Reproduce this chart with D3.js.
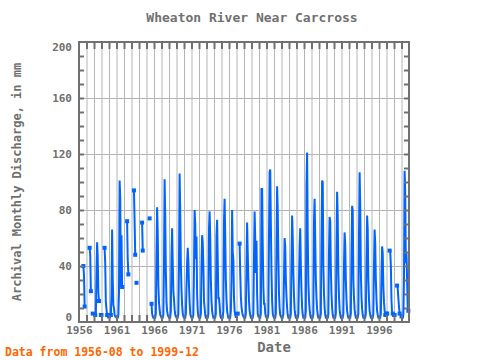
<!DOCTYPE html>
<html><head><meta charset="utf-8">
<script src="https://cdn.jsdelivr.net/npm/d3@7"></script>
<style>
html,body{margin:0;padding:0;background:#fff;}
svg text{font-family:"DejaVu Sans Mono",monospace;font-weight:bold;}
</style></head>
<body><svg id="c" width="480" height="360"></svg>
<script>
// Monthly discharge (mm), series starts January of first year listed; null = missing
const firstYear = 1956;
const flow1956to1959 = [
  null,null,null,null,null,null,null,40,33,11,null,null,
  null,null,null,null,null,53,48,22,null,null,6,null,
  null,null,5,5,36,57,46,21,15,null,null,5,
  5,null,null,null,null,53,42,14,9,5,null,null];
const flow1960to1965 = [
  4,null,null,5,20,66,31,12,10,5,4,4,
  3,3,3,5,21,101,89,25,62,25,null,null,
  null,null,null,null,null,72,45,34,null,null,null,null,
  null,null,null,null,94,72,48,null,28,null,null,null,
  null,null,null,null,null,71,51,null,null,null,null,null,
  null,null,null,null,null,74,null,null,13,6,4,3];
const flow1966to1975 = [
  3,3,3,6,49,82,64,26,14,9,5,4,
  3,3,3,5,40,102,76,36,14,8,5,4,
  3,3,3,8,48,67,42,22,16,9,5,4,
  3,3,3,6,40,106,80,42,23,12,6,4,
  3,3,3,6,25,42,53,44,26,14,6,4,
  3,3,3,5,35,80,70,45,61,20,8,4,
  3,3,3,6,40,62,57,40,15,10,5,3,
  3,3,3,6,66,79,60,30,15,8,5,3,
  3,3,3,6,62,73,45,17,17,12,5,3,
  3,3,3,8,71,88,61,30,16,8,5,3];
const flow1976to1985 = [
  3,3,3,8,30,80,50,44,17,8,5,3,
  5,5,6,null,null,56,35,18,11,7,5,4,
  3,3,3,6,40,71,50,30,15,8,5,3,
  3,3,3,6,45,79,60,35,58,20,6,4,
  4,3,3,6,95,95,55,25,13,13,6,4,
  3,3,3,6,60,107,109,70,35,15,6,4,
  3,3,3,6,55,97,80,46,20,10,5,4,
  3,3,3,6,30,60,54,30,18,10,5,3,
  3,3,3,6,45,76,61,35,18,9,5,3,
  3,3,3,6,30,54,67,40,22,10,5,3];
const flow1986to1995 = [
  3,3,3,8,98,121,62,28,16,9,5,3,
  3,3,3,6,72,88,60,30,17,9,5,3,
  3,3,3,6,60,101,100,40,20,10,5,3,
  3,3,3,6,50,75,72,38,20,10,5,3,
  3,3,3,6,55,93,75,35,18,9,5,3,
  3,3,3,6,40,64,55,30,16,8,5,3,
  3,3,3,6,50,83,80,30,17,9,5,3,
  3,3,3,6,60,107,84,35,18,9,5,3,
  3,3,3,6,45,76,66,30,16,8,5,3,
  3,3,3,6,40,66,56,30,16,8,5,3];
const flow1996to1999 = [
  3,3,3,6,35,54,49,25,14,8,5,null,
  6,6,null,null,null,51,51,40,15,6,6,null,
  5,5,null,null,null,26,24,17,11,6,null,null,
  4,3,3,5,30,108,92,42,49,30,9,8];
const yTicks = [0,40,80,120,160,200];
const xLabelYears = [1956,1961,1966,1971,1976,1981,1986,1991,1996];
const titleText = "Wheaton River Near Carcross";
const yLabel = "Archival Monthly Discharge, in mm";
const xLabel = "Date";
const footer = "Data from 1956-08 to 1999-12";

const all = [].concat(flow1956to1959, flow1960to1965, flow1966to1975, flow1976to1985, flow1986to1995, flow1996to1999);
const data = all.map((v,i)=>({date:new Date(firstYear + Math.floor(i/12), i%12, 1), v:v}));

const svg = d3.select("#c");
const L=79,R=409,T=42,B=322;
const x = d3.scaleTime().domain([new Date(1956,0,1), new Date(2000,0,1)]).range([L,R]);
const y = d3.scaleLinear().domain([0,200]).range([B,T]);
const grey="#707070", gridc="#b4b4b4";
const years = d3.range(1957,2000).map(yy=>new Date(yy,0,1));

// grid
svg.append("g").attr("transform",`translate(0,${B})`)
  .call(d3.axisBottom(x).tickValues(years).tickSize(-(B-T)).tickFormat(""))
  .call(g=>{g.select(".domain").remove();g.selectAll("line").attr("stroke",gridc).attr("stroke-width",1);});
svg.append("g").attr("transform",`translate(${L},0)`)
  .call(d3.axisLeft(y).tickValues([40,80,120,160]).tickSize(-(R-L)).tickFormat(""))
  .call(g=>{g.select(".domain").remove();g.selectAll("line").attr("stroke",gridc).attr("stroke-width",1);});

// data line
const line = d3.line().defined(d=>d.v!=null).x(d=>x(d.date)).y(d=>y(d.v));
svg.append("path").datum(data).attr("d",line).attr("fill","none")
  .attr("stroke","#0064ff").attr("stroke-width",2).attr("stroke-linejoin","miter");
const lone = data.filter((d,i)=>d.v!=null && (i===0||all[i-1]==null||i===all.length-1||all[i+1]==null));
svg.append("g").selectAll("rect").data(lone).join("rect")
  .attr("x",d=>x(d.date)-2).attr("y",d=>y(d.v)-2).attr("width",4).attr("height",4)
  .attr("fill","#0064ff");

// frame
svg.append("rect").attr("x",L).attr("y",T).attr("width",R-L).attr("height",B-T)
  .attr("fill","none").attr("stroke",grey).attr("stroke-width",2);

// tick marks
const tickStyle = g=>{g.select(".domain").remove();g.selectAll("line").attr("stroke",grey).attr("stroke-width",2);g.selectAll("text").remove();};
svg.append("g").attr("transform",`translate(0,${T})`).call(d3.axisTop(x).tickValues(years).tickSize(-7)).call(tickStyle);
svg.append("g").attr("transform",`translate(0,${B})`).call(d3.axisBottom(x).tickValues(years).tickSize(-7)).call(tickStyle);
svg.append("g").attr("transform",`translate(${L},0)`).call(d3.axisLeft(y).tickValues(d3.range(10,200,10)).tickSize(-5)).call(tickStyle);
svg.append("g").attr("transform",`translate(${R},0)`).call(d3.axisRight(y).tickValues(d3.range(10,200,10)).tickSize(-5)).call(tickStyle);

// labels
const ya = svg.append("g").attr("transform",`translate(${L},0)`)
  .call(d3.axisLeft(y).tickValues(yTicks).tickSize(0).tickPadding(7));
ya.select(".domain").remove();
ya.selectAll("text").attr("fill",grey).style("font-size","11px")
  .attr("dy",d=>d===200?"0.75em":(d===0?"-0.1em":"0.32em"));
const xa = svg.append("g").attr("transform",`translate(0,${B})`)
  .call(d3.axisBottom(x).tickValues(xLabelYears.map(yy=>new Date(yy,0,1))).tickSize(0).tickPadding(4).tickFormat(d3.timeFormat("%Y")));
xa.select(".domain").remove();
xa.selectAll("text").attr("fill",grey).style("font-size","11px");

svg.append("text").attr("x",252).attr("y",22).attr("text-anchor","middle")
  .attr("fill",grey).style("font-size","13px").text(titleText);
svg.append("text").attr("transform","translate(21,182) rotate(-90)").attr("text-anchor","middle")
  .attr("fill",grey).style("font-size","12px").text(yLabel);
svg.append("text").attr("x",274).attr("y",352).attr("text-anchor","middle")
  .attr("fill",grey).style("font-size","14px").text(xLabel);
svg.append("text").attr("x",5).attr("y",356)
  .attr("fill","#ff6600").style("font-size","11.5px").text(footer);
</script></body></html>
